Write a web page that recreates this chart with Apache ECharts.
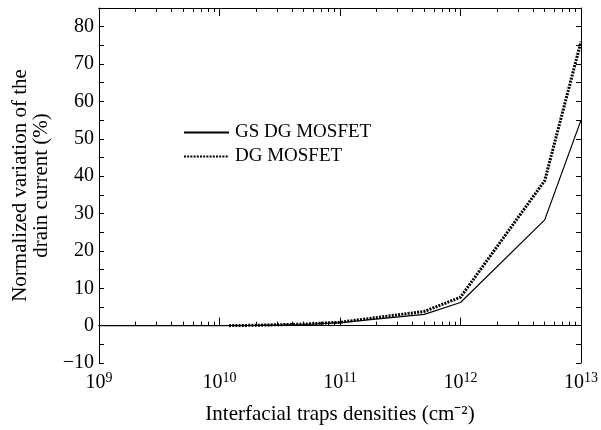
<!DOCTYPE html>
<html>
<head>
<meta charset="utf-8">
<script src="https://cdn.jsdelivr.net/npm/echarts@6/dist/echarts.min.js"></script>
<style>
  html, body { margin: 0; padding: 0; background: #fff; }
  #chart { width: 601px; height: 430px; }
</style>
</head>
<body>
<div id="chart"></div>
<script>
// donnees
const gsDensities = [1e9, 1e10, 2e10, 5e10, 1e11, 5e11, 1e12, 5e12, 1e13];
const gsValues    = [0, 0, 0.1, 0.3, 0.8, 3.0, 6.2, 28.3, 55];
const dgDensities = [1.2e10, 2e10, 5e10, 1e11, 5e11, 1e12, 5e12, 1e13];
const dgValues    = [0, 0.1, 0.4, 0.9, 3.8, 7.6, 38.8, 76];

const xMajorTicks = [1e9, 1e10, 1e11, 1e12, 1e13];
const xMinorTicks = [];
xMajorTicks.slice(0, -1).forEach(d => { for (let k = 2; k <= 9; k++) xMinorTicks.push(d * k); });
const yTicks  = [-10, -5, 0, 5, 10, 15, 20, 25, 30, 35, 40, 45, 50, 55, 60, 65, 70, 75, 80, 85];
const yLabels = [-10, 0, 10, 20, 30, 40, 50, 60, 70, 80];

const FONT = 'Liberation Serif';
const INK = '#000';

function toPairs(xs, ys) { return xs.map((x, i) => [x, ys[i]]); }

function xAxisCfg(position, ticks, len, showLabel, name) {
    return {
        type: 'log',
        logBase: 10,
        min: 1e9,
        max: 1e13,
        position: position,
        name: name || '',
        nameLocation: 'middle',
        nameGap: 41,
        nameTextStyle: { fontFamily: FONT, fontSize: 21, color: INK },
        axisLine: { show: true, lineStyle: { color: INK, width: 1 } },
        axisTick: { show: true, inside: true, length: len, customValues: ticks, lineStyle: { color: INK } },
        axisLabel: {
            show: showLabel,
            customValues: xMajorTicks,
            margin: 8,
            formatter: v => '{b|10}{s|' + Math.round(Math.log10(v)) + '}',
            rich: {
                b: { fontFamily: FONT, fontSize: 20, color: INK },
                s: { fontFamily: FONT, fontSize: 14, color: INK, padding: [0, 0, 9, 0] }
            }
        },
        splitLine: { show: false }
    };
}

function yAxisCfg(position, showLabel, name) {
    return {
        type: 'value',
        min: -10,
        max: 85,
        position: position,
        name: name || '',
        nameLocation: 'middle',
        nameGap: 43,
        nameTextStyle: { fontFamily: FONT, fontSize: 21, color: INK, lineHeight: 21 },
        axisLine: { show: true, lineStyle: { color: INK, width: 1 } },
        axisTick: { show: true, inside: true, length: 5, customValues: yTicks, lineStyle: { color: INK } },
        axisLabel: {
            show: showLabel,
            customValues: yLabels,
            margin: 5,
            fontFamily: FONT,
            fontSize: 20,
            color: INK,
            formatter: v => (v < 0 ? '\u2212' + Math.abs(v) : '' + v)
        },
        splitLine: { show: false }
    };
}

const chart = echarts.init(document.getElementById('chart'), null, { renderer: 'canvas' });

chart.setOption({
    animation: false,
    backgroundColor: '#fff',
    textStyle: { fontFamily: FONT },
    grid: { left: 99, right: 17, top: 8, bottom: 67 },
    legend: {
        left: 178,
        top: 118,
        orient: 'vertical',
        itemWidth: 45,
        itemHeight: 10,
        itemGap: 5,
        itemStyle: { opacity: 0 },
        textStyle: { fontFamily: FONT, fontSize: 19, color: INK, padding: [0, 0, 0, 1] },
        data: ['GS DG MOSFET', 'DG MOSFET']
    },
    xAxis: [
        xAxisCfg('bottom', xMajorTicks, 8, true, 'Interfacial traps densities (cm\u207B\u00B2)'),
        xAxisCfg('bottom', xMinorTicks, 4, false),
        xAxisCfg('top', xMajorTicks, 8, false),
        xAxisCfg('top', xMinorTicks, 4, false)
    ],
    yAxis: [
        yAxisCfg('left', true, 'Normalized variation of the\ndrain current (%)'),
        yAxisCfg('right', false)
    ],
    series: [
        {
            name: 'GS DG MOSFET',
            type: 'line',
            data: toPairs(gsDensities, gsValues),
            showSymbol: false,
            symbol: 'none',
            lineStyle: { color: INK, width: 1.2, type: 'solid' },
            itemStyle: { color: INK }
        },
        {
            name: 'DG MOSFET',
            type: 'line',
            data: toPairs(dgDensities, dgValues),
            showSymbol: false,
            symbol: 'none',
            lineStyle: { color: INK, width: 3, type: [2, 1.2] },
            itemStyle: { color: INK }
        }
    ]
});

window.addEventListener('resize', chart.resize);
</script>
</body>
</html>
